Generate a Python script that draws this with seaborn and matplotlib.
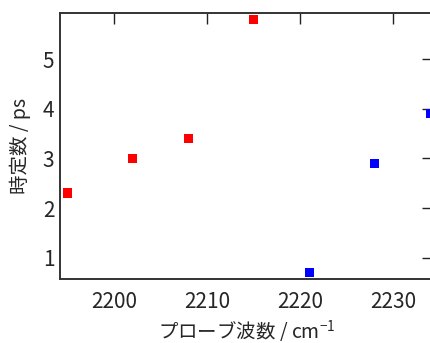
import matplotlib
matplotlib.use('Agg')
import pandas as pd
import matplotlib.pyplot as plt
import seaborn as sns

# data
wavenumber = [2195, 2202, 2208, 2215, 2221, 2228, 2234]
time_const = [2.3, 3.0, 3.4, 5.8, 0.7, 2.9, 3.9]
group = ['a', 'a', 'a', 'a', 'b', 'b', 'b']
x_ticks = [2200, 2210, 2220, 2230]
y_ticks = [1, 2, 3, 4, 5]

df = pd.DataFrame({'wn': wavenumber, 'tau': time_const, 'grp': group})

sns.set_style('white')
plt.rcParams['font.family'] = ['Noto Sans CJK JP', 'DejaVu Sans']
plt.rcParams['mathtext.default'] = 'regular'

fig = plt.figure(figsize=(4.31, 3.43), dpi=100)
ax = fig.add_axes([60 / 431, 64 / 343, 373 / 431, 266 / 343])

sns.scatterplot(
    data=df, x='wn', y='tau', hue='grp',
    palette={'a': '#ff0000', 'b': '#0000ff'},
    marker='s', s=45, linewidth=0, legend=False, ax=ax
)

ax.set_xlim(2194.2, 2234.3)
ax.set_ylim(0.57, 5.93)
ax.set_xticks(x_ticks)
ax.set_yticks(y_ticks)
ax.tick_params(direction='in', length=8, width=1, color='#222222',
               top=True, right=True, labelsize=15)
ax.tick_params(axis='x', pad=9)
ax.tick_params(axis='y', pad=4)

for sp in ax.spines.values():
    sp.set_color('#333333')
    sp.set_linewidth(1.4)

ax.set_xlabel('プローブ波数 / cm$^{-1}$', fontsize=14)
ax.set_ylabel('時定数 / ps', fontsize=14)
ax.xaxis.set_label_coords(0.5, -0.148)
ax.yaxis.set_label_coords(-0.077, 0.5)

fig.savefig('out.png', dpi=100)
